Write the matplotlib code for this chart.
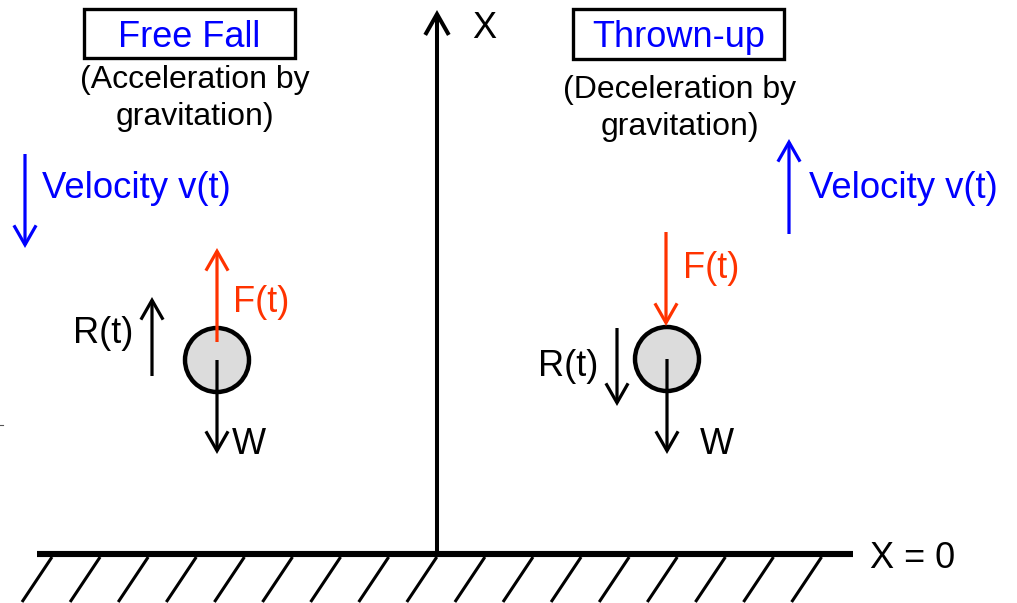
import matplotlib
matplotlib.use("Agg")
import matplotlib.pyplot as plt
from matplotlib.patches import FancyArrowPatch, Circle, Rectangle, ArrowStyle

plt.rcParams['font.family'] = ['Liberation Sans', 'DejaVu Sans']

# ---- text content ----
titles = ["Free Fall", "Thrown-up"]
subtitles = [["(Acceleration by", "gravitation)"], ["(Deceleration by", "gravitation)"]]
velocity_label = "Velocity v(t)"
force_label = "F(t)"
resist_label = "R(t)"
weight_label = "W"
axis_label = "X"
ground_label = "X = 0"

BLUE = "#0000FF"
RED = "#FF3300"
BLACK = "#000000"

W_PX, H_PX = 1017, 603
fig = plt.figure(figsize=(W_PX / 100, H_PX / 100), dpi=100)
ax = fig.add_axes([0, 0, 1, 1])
ax.set_xlim(0, W_PX)
ax.set_ylim(H_PX, 0)
ax.axis('off')


def arrow(x0, y0, x1, y1, color=BLACK, lw=2.3, hl=14, hw=8):
    st = ArrowStyle('->', head_length=hl, head_width=hw)
    p = FancyArrowPatch((x0, y0), (x1, y1), arrowstyle=st, mutation_scale=1,
                        color=color, lw=lw, shrinkA=0, shrinkB=0,
                        capstyle='butt', joinstyle='miter', zorder=3)
    ax.add_patch(p)


# ground
ax.plot([37, 853], [554, 554], color=BLACK, lw=4.4, solid_capstyle='butt')
for i in range(17):
    xt = 52 + i * 48.1
    ax.plot([xt, xt - 30], [557, 602], color=BLACK, lw=2.2, solid_capstyle='butt')
ax.text(870, 568, ground_label, fontsize=26, ha='left', va='baseline', color=BLACK)

# vertical X axis
arrow(437, 554, 437, 10, lw=2.9, hl=15, hw=8.5)
ax.text(472, 38, axis_label, fontsize=26, ha='left', va='baseline', color=BLACK)

# title boxes
for (x0, y0, x1, y1), title in zip([(84, 9, 295, 58), (573, 9, 784, 59)], titles):
    ax.add_patch(Rectangle((x0, y0), x1 - x0, y1 - y0, fill=False, ec=BLACK, lw=2.4))
    ax.text((x0 + x1) / 2, 47, title, fontsize=26, ha='center', va='baseline', color=BLUE)

# subtitles
for (cx, ys), lines in zip([(195, (88, 125)), (680, (98, 135))], subtitles):
    for y, line in zip(ys, lines):
        ax.text(cx, y, line, fontsize=23, ha='center', va='baseline', color=BLACK)

# ---- left: free fall ----
arrow(25, 154, 25, 248, color=BLUE)
ax.text(42, 198, velocity_label, fontsize=26.3, ha='left', va='baseline', color=BLUE)
ax.add_patch(Circle((217, 360), 32, fc='#DCDCDC', ec=BLACK, lw=3.2, zorder=1))
arrow(217, 342, 217, 248, color=RED)
ax.text(233, 312, force_label, fontsize=26, ha='left', va='baseline', color=RED)
arrow(217, 360, 217, 454)
ax.text(232, 454, weight_label, fontsize=26, ha='left', va='baseline', color=BLACK)
arrow(152, 376, 152, 297)
ax.text(73, 343, resist_label, fontsize=26, ha='left', va='baseline', color=BLACK)

# ---- right: thrown up ----
arrow(789, 234, 789, 139, color=BLUE)
ax.text(809, 198, velocity_label, fontsize=26.3, ha='left', va='baseline', color=BLUE)
ax.add_patch(Circle((667, 359), 32, fc='#DCDCDC', ec=BLACK, lw=3.2, zorder=1))
arrow(666, 232, 666, 326, color=RED)
ax.text(683, 278, force_label, fontsize=26, ha='left', va='baseline', color=RED)
arrow(667, 359, 667, 454)
ax.text(700, 454, weight_label, fontsize=26, ha='left', va='baseline', color=BLACK)
arrow(617, 328, 617, 406)
ax.text(538, 376, resist_label, fontsize=26, ha='left', va='baseline', color=BLACK)

# small stray mark at left edge
ax.plot([0, 3], [425, 425], color='#555555', lw=0.8)

fig.savefig("out.png", dpi=100)
